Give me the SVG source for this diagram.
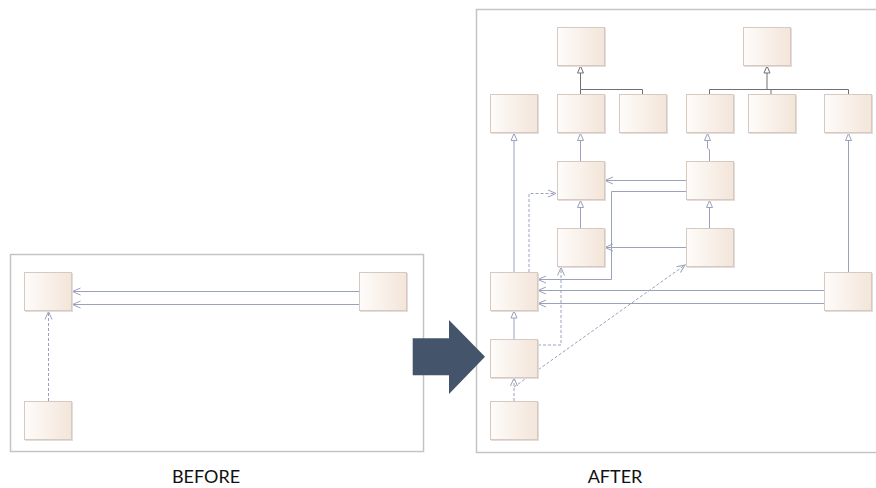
<svg xmlns="http://www.w3.org/2000/svg" width="876" height="488" viewBox="0 0 876 488">
  <defs>
    <linearGradient id="boxFill" x1="0" y1="0" x2="1" y2="0">
      <stop offset="0" stop-color="#fefcfa"/>
      <stop offset="1" stop-color="#f3e5d9"/>
    </linearGradient>
    <!-- open (association) arrowhead -->
    <marker id="open" markerUnits="userSpaceOnUse" markerWidth="12" markerHeight="12" viewBox="-10 -6 12 12" refX="0" refY="0" orient="auto" overflow="visible">
      <path d="M-8,-3.5 L0,0 L-8,3.5" fill="none" stroke="#9aa1ba" stroke-width="1"/>
    </marker>
    <!-- hollow triangle (generalization) arrowhead -->
    <marker id="tri" markerUnits="userSpaceOnUse" markerWidth="12" markerHeight="12" viewBox="-10 -6 12 12" refX="0" refY="0" orient="auto" overflow="visible">
      <path d="M-7,-3 L0,0 L-7,3 Z" fill="#ffffff" stroke="#9aa1ba" stroke-width="1"/>
    </marker>
    <marker id="triDark" markerUnits="userSpaceOnUse" markerWidth="12" markerHeight="12" viewBox="-10 -6 12 12" refX="0" refY="0" orient="auto" overflow="visible">
      <path d="M-7,-3 L0,0 L-7,3 Z" fill="#ffffff" stroke="#707070" stroke-width="1"/>
    </marker>
  </defs>
  <style>
    .frame { fill: #ffffff; stroke: #c4c4c4; stroke-width: 1.5; }
    .box { fill: url(#boxFill); stroke: #d6c9c1; stroke-width: 1; }
    .shadow { fill: #e3dcd8; }
    .conn { fill: none; stroke: #9aa1ba; stroke-width: 1; }
    .dash { stroke-dasharray: 3 2; }
    .tree { fill: none; stroke: #707070; stroke-width: 1; }
    .label { font-family: Lato, "Liberation Sans", sans-serif; font-size: 18px; fill: #111111; text-anchor: middle; }
  </style>

  <!-- frames -->
  <rect class="frame" x="10.5" y="254.5" width="413" height="197"/>
  <rect class="frame" x="476.5" y="9.5" width="420" height="443"/>

  <!-- connectors -->
  <g id="connectors">
    <!-- before -->
    <path class="conn" d="M359,291.5 H72.5" marker-end="url(#open)"/>
    <path class="conn" d="M359,304.5 H72.5" marker-end="url(#open)"/>
    <path class="conn dash" d="M48.5,401 V311.5" marker-end="url(#open)"/>

    <!-- after: upper hierarchies -->
    <path class="tree" d="M580.5,94 V89.5"/>
    <path class="tree" d="M642.5,94 V89.5 H580.5 V66" marker-end="url(#triDark)"/>
    <path class="tree" d="M709.5,94 V89.5 H848.5 V94"/>
    <path class="tree" d="M771,94 V89.5"/>
    <path class="tree" d="M767,89.5 V66" marker-end="url(#triDark)"/>

    <!-- after: generalizations -->
    <path class="conn" d="M514,272 V133.5" marker-end="url(#tri)"/>
    <path class="conn" d="M580.5,161 V133.5" marker-end="url(#tri)"/>
    <path class="conn" d="M709.5,161 V150 L707.5,148 V133.5" marker-end="url(#tri)"/>
    <path class="conn" d="M848.5,272 V133.5" marker-end="url(#tri)"/>
    <path class="conn" d="M580.5,228 V200.5" marker-end="url(#tri)"/>
    <path class="conn" d="M709.5,228 V200.5" marker-end="url(#tri)"/>
    <path class="conn" d="M514,339 V311" marker-end="url(#tri)"/>

    <!-- after: associations -->
    <path class="conn" d="M686,180.5 H605" marker-end="url(#open)"/>
    <path class="conn" d="M686,191.5 H611.5 V279.5 H538" marker-end="url(#open)"/>
    <path class="conn" d="M686,247.5 H605" marker-end="url(#open)"/>
    <path class="conn" d="M824,290.5 H538" marker-end="url(#open)"/>
    <path class="conn" d="M824,303.5 H538" marker-end="url(#open)"/>

    <!-- after: dependencies -->
    <path class="conn dash" d="M529,272 V193.5 H556" marker-end="url(#open)"/>
    <path class="conn dash" d="M538,345 H561 V267.5" marker-end="url(#open)"/>
    <path class="conn dash" d="M514,401 V378" marker-end="url(#open)"/>
    <path class="conn dash" d="M514,387 L685,265" marker-end="url(#open)"/>
  </g>

  <!-- before nodes -->
  <g id="b1"><rect class="shadow" x="25" y="273" width="48" height="39"/><rect class="box" x="24.5" y="272.5" width="47" height="38"/></g>
  <g id="b2"><rect class="shadow" x="360" y="273" width="48" height="39"/><rect class="box" x="359.5" y="272.5" width="47" height="38"/></g>
  <g id="b3"><rect class="shadow" x="25" y="402" width="48" height="39"/><rect class="box" x="24.5" y="401.5" width="47" height="38"/></g>

  <!-- after nodes -->
  <g id="t1"><rect class="shadow" x="558" y="28" width="48" height="39"/><rect class="box" x="557.5" y="27.5" width="47" height="38"/></g>
  <g id="t2"><rect class="shadow" x="744" y="28" width="48" height="39"/><rect class="box" x="743.5" y="27.5" width="47" height="38"/></g>
  <g id="a"><rect class="shadow" x="491" y="95" width="48" height="39"/><rect class="box" x="490.5" y="94.5" width="47" height="38"/></g>
  <g id="b"><rect class="shadow" x="558" y="95" width="48" height="39"/><rect class="box" x="557.5" y="94.5" width="47" height="38"/></g>
  <g id="c"><rect class="shadow" x="620" y="95" width="48" height="39"/><rect class="box" x="619.5" y="94.5" width="47" height="38"/></g>
  <g id="d"><rect class="shadow" x="687" y="95" width="48" height="39"/><rect class="box" x="686.5" y="94.5" width="47" height="38"/></g>
  <g id="e"><rect class="shadow" x="749" y="95" width="48" height="39"/><rect class="box" x="748.5" y="94.5" width="47" height="38"/></g>
  <g id="f"><rect class="shadow" x="825" y="95" width="48" height="39"/><rect class="box" x="824.5" y="94.5" width="47" height="38"/></g>
  <g id="g"><rect class="shadow" x="558" y="162" width="48" height="39"/><rect class="box" x="557.5" y="161.5" width="47" height="38"/></g>
  <g id="h"><rect class="shadow" x="687" y="162" width="48" height="39"/><rect class="box" x="686.5" y="161.5" width="47" height="38"/></g>
  <g id="i"><rect class="shadow" x="558" y="229" width="48" height="39"/><rect class="box" x="557.5" y="228.5" width="47" height="38"/></g>
  <g id="j"><rect class="shadow" x="687" y="229" width="48" height="39"/><rect class="box" x="686.5" y="228.5" width="47" height="38"/></g>
  <g id="k"><rect class="shadow" x="491" y="273" width="48" height="39"/><rect class="box" x="490.5" y="272.5" width="47" height="38"/></g>
  <g id="l"><rect class="shadow" x="825" y="273" width="48" height="39"/><rect class="box" x="824.5" y="272.5" width="47" height="38"/></g>
  <g id="m"><rect class="shadow" x="491" y="340" width="48" height="39"/><rect class="box" x="490.5" y="339.5" width="47" height="38"/></g>
  <g id="n"><rect class="shadow" x="491" y="402" width="48" height="39"/><rect class="box" x="490.5" y="401.5" width="47" height="38"/></g>

  <!-- transition arrow -->
  <polygon points="412.7,338.3 449,338.3 449,320 485,356.7 449,394 449,375.3 412.7,375.3" fill="#44546a"/>

  <!-- captions -->
  <text class="label" x="206" y="483">BEFORE</text>
  <text class="label" x="615" y="483">AFTER</text>
</svg>
